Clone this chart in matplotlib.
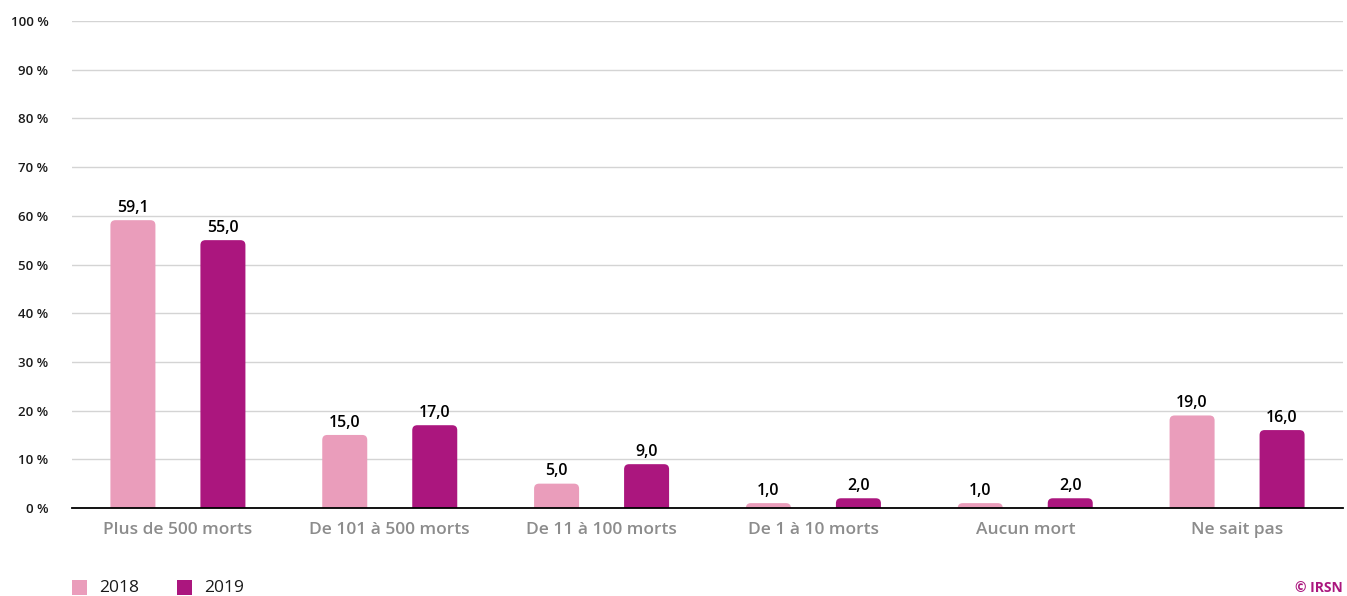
import matplotlib.pyplot as plt
import numpy as np
from matplotlib.patches import FancyBboxPatch, Rectangle

plt.rcParams['font.family'] = ['Open Sans', 'DejaVu Sans']

# Données
categories = ["Plus de 500 morts", "De 101 à 500 morts", "De 11 à 100 morts",
              "De 1 à 10 morts", "Aucun mort", "Ne sait pas"]
years = ["2018", "2019"]
values_2018 = [59.1, 15.0, 5.0, 1.0, 1.0, 19.0]
values_2019 = [55.0, 17.0, 9.0, 2.0, 2.0, 16.0]
yticks = [0, 10, 20, 30, 40, 50, 60, 70, 80, 90, 100]

colors = ['#EA9DBB', '#AB167E']
series = [values_2018, values_2019]

W, H = 1347, 596
fig = plt.figure(figsize=(W / 100, H / 100), dpi=100)
ax = fig.add_axes([72 / W, 88 / H, (1343 - 72) / W, (508 - 21) / H])
ax.set_xlim(-0.5, len(categories) - 0.5)
ax.set_ylim(0, 100)

# pixels par unité
px_x = (1343 - 72) / len(categories)
px_y = (508 - 21) / 100
radius_px = 5
rx = radius_px / px_x
aspect = px_x / px_y

bar_w = 45 / px_x
offset = 45 / px_x
x = np.arange(len(categories))

for s, (vals, col) in enumerate(zip(series, colors)):
    xs = x + (-offset if s == 0 else offset)
    for xi, v in zip(xs, vals):
        ry = radius_px / px_y
        bottom = -ry
        h = v + ry
        # arrondi limité à la moitié de la hauteur
        dr = min(rx, (h / aspect) / 2, bar_w / 2)
        p = FancyBboxPatch((xi - bar_w / 2, bottom), bar_w, h,
                           boxstyle=f"round,pad=0,rounding_size={dr}",
                           mutation_aspect=aspect, facecolor=col,
                           edgecolor='none', clip_on=True, zorder=3)
        ax.add_patch(p)
        ax.text(xi, v + 0.9, f"{v:.1f}".replace('.', ','), ha='center',
                va='bottom', fontsize=11.5, color='black', fontweight='semibold',
                zorder=4)

ax.set_yticks(yticks)
ax.set_yticklabels([f"{t} %" for t in yticks], fontsize=9.5,
                   fontweight='semibold', color='#1a1a1a')
ax.set_xticks(x)
ax.set_xticklabels(categories, fontsize=12.5, color='#8c8c8c',
                   fontweight='semibold')
ax.tick_params(axis='both', length=0)
ax.tick_params(axis='y', pad=17)
ax.tick_params(axis='x', pad=10)

ax.grid(axis='y', color='#d4d4d4', linewidth=1)
ax.set_axisbelow(True)
for sp in ['top', 'right', 'left']:
    ax.spines[sp].set_visible(False)
ax.spines['bottom'].set_color('black')
ax.spines['bottom'].set_linewidth(1.3)
ax.spines['bottom'].set_zorder(5)

# Légende
for i, (yr, col) in enumerate(zip(years, colors)):
    x0 = 72 + i * 105
    fig.patches.append(Rectangle((x0 / W, (H - 595) / H), 15 / W, 15 / H,
                                 transform=fig.transFigure, facecolor=col,
                                 edgecolor='none'))
    fig.text((x0 + 27) / W, (H - 588) / H, yr, fontsize=12.5, va='center',
             ha='left', color='#1a1a1a')

fig.text(1343 / W, (H - 588) / H, "© IRSN", fontsize=10, fontweight='bold',
         color='#AB167E', ha='right', va='center')

fig.savefig("out.png", dpi=100)
